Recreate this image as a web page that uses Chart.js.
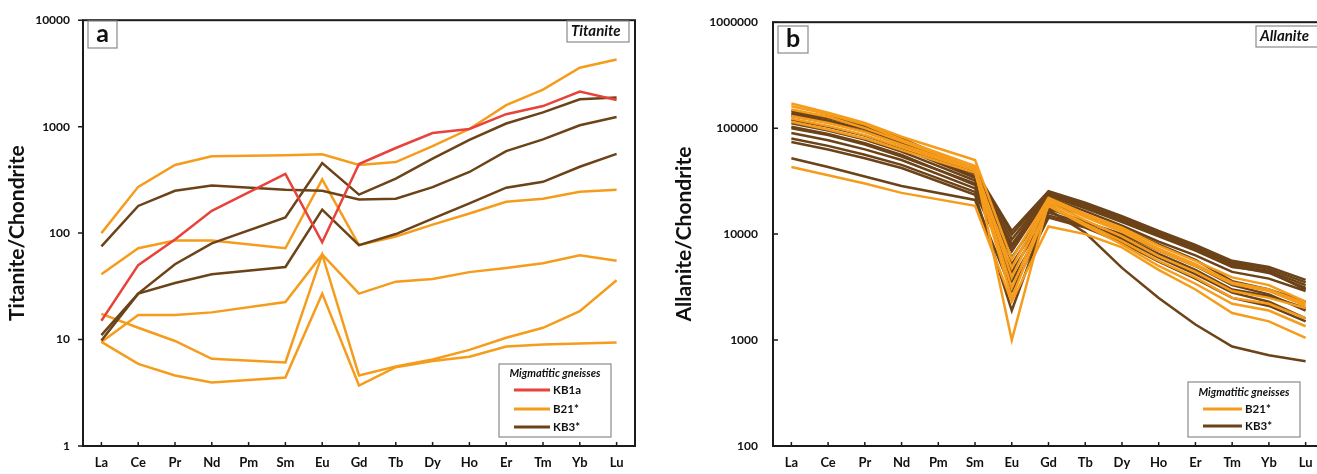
<!DOCTYPE html>
<html>
<head>
<meta charset="utf-8">
<script src="https://cdn.jsdelivr.net/npm/chart.js@4.4.0/dist/chart.umd.min.js"></script>
<style>
  html, body { margin: 0; padding: 0; background: #fff; overflow: hidden; width: 1317px; height: 474px; }
  #wrapA { position: absolute; left: 0; top: 0; }
  #wrapB { position: absolute; left: 660px; top: 0; }
</style>
</head>
<body>
<div id="wrapA"><canvas id="titanite" width="650" height="474"></canvas></div>
<div id="wrapB"><canvas id="allanite" width="664" height="474"></canvas></div>
<script>
  // REE order, Pm not analysed (null, line spans the gap)
  var elements = ["La", "Ce", "Pr", "Nd", "Pm", "Sm", "Eu", "Gd", "Tb", "Dy", "Ho", "Er", "Tm", "Yb", "Lu"];
  var titaniteTicks = [1, 10, 100, 1000, 10000];
  var allaniteTicks = [100, 1000, 10000, 100000, 1000000];

  // a - Titanite/Chondrite
  var titaniteKB1a = [
    [15, 50, 87, 162, null, 360, 82, 445, 630, 870, 950, 1310, 1560, 2140, 1780]
  ];
  var titaniteB21 = [
    [100, 272, 437, 528, null, 540, 550, 437, 465, 655, 950, 1590, 2230, 3580, 4270],
    [41, 72, 85, 85, null, 72, 320, 77, 93, 120, 153, 197, 210, 245, 255],
    [9.5, 17, 17, 18, null, 22.5, 63, 27, 35, 37, 43, 47, 52, 62, 55],
    [17.4, 12.9, 9.7, 6.6, null, 6.1, 63, 4.6, 5.6, 6.5, 8.0, 10.4, 12.9, 18.5, 36],
    [9.5, 5.9, 4.6, 3.95, null, 4.4, 27, 3.7, 5.5, 6.3, 6.9, 8.6, 9.0, 9.2, 9.4]
  ];
  var titaniteKB3 = [
    [75, 180, 250, 280, null, 255, 250, 207, 210, 270, 375, 590, 760, 1030, 1230],
    [9.8, 27, 51, 80, null, 140, 455, 230, 325, 500, 750, 1070, 1360, 1810, 1880],
    [11, 27, 34, 41, null, 48, 166, 77, 98, 137, 190, 267, 303, 420, 555]
  ];

  // b - Allanite/Chondrite
  var allaniteKB3 = [
    [146000, 128000, 108000, 80000, null, 40000, 10700, 25400, 19800, 14800, 10700, 7900, 5600, 4900, 3700],
    [140000, 124000, 104000, 77000, null, 39000, 9900, 25000, 19200, 14300, 10300, 7600, 5400, 4700, 3500],
    [135000, 118000, 98000, 73000, null, 37000, 8900, 24500, 18600, 13900, 10000, 7400, 5200, 4500, 3300],
    [130000, 113000, 93000, 70000, null, 35000, 8000, 24000, 18000, 13400, 9700, 7200, 5000, 4300, 3100],
    [120000, 103000, 85000, 65000, null, 34000, 3600, 15000, 12000, 9500, 6500, 4600, 3000, 2600, 2000],
    [111000, 95000, 78000, 60000, null, 32000, 6900, 23000, 17500, 13000, 9500, 7000, 4900, 4400, 3000],
    [103000, 88000, 72000, 56000, null, 29000, 6000, 19500, 15000, 11500, 8000, 5700, 3600, 3000, 2300],
    [100000, 86000, 70000, 54000, null, 30000, 7500, 22000, 16500, 12000, 8500, 6300, 4400, 3800, 2900],
    [90000, 77000, 63000, 50000, null, 27000, 5200, 17500, 13000, 10000, 7000, 5000, 3300, 2700, 1900],
    [80000, 68000, 56000, 45000, null, 25000, 4400, 16000, 12500, 9000, 6000, 4200, 2800, 2300, 1600],
    [74000, 63000, 52000, 42000, null, 23500, 1900, 17000, 10300, 4800, 2500, 1400, 870, 720, 630],
    [52000, 43000, 35000, 28500, null, 21000, 2900, 14300, 11500, 8300, 5500, 3800, 2500, 2100, 1500]
  ];
  var allaniteB21 = [
    [171000, 140000, 112000, 83000, null, 50000, 5800, 22000, 15500, 11500, 7800, 5600, 3900, 3300, 2300],
    [161000, 135000, 108000, 78000, null, 44000, 3900, 21000, 14500, 10500, 7000, 5000, 3400, 2900, 2100],
    [150000, 128000, 100000, 75000, null, 42000, 1000, 20000, 13500, 9500, 6200, 4400, 2900, 2500, 2000],
    [130000, 112000, 92000, 70000, null, 41000, 4800, 21500, 15000, 11000, 7300, 5200, 3500, 3000, 2200],
    [123000, 105000, 86000, 66000, null, 40000, 3100, 19000, 12500, 8600, 5600, 3900, 2500, 2200, 1600],
    [115000, 97000, 80000, 62000, null, 38000, 2500, 18500, 12000, 8000, 5000, 3400, 2200, 1900, 1350],
    [43000, 36000, 30000, 24500, null, 18500, 2300, 11800, 10000, 7500, 4600, 3000, 1800, 1500, 1050]
  ];

  var FONT = "Lato, 'Open Sans', sans-serif";
  var RED = "#e8433b";
  var ORANGE = "#f59c1c";
  var BROWN = "#6c4318";

  function lines(rows, color, width) {
    return rows.map(function(row) {
      return {
        data: row,
        borderColor: color,
        backgroundColor: color,
        borderWidth: width,
        pointRadius: 0,
        spanGaps: true,
        fill: false,
        tension: 0
      };
    });
  }

  var decorPlugin = {
    id: "decor",
    afterDraw: function(chart, args, o) {
      var ctx = chart.ctx;
      var a = chart.chartArea;
      var xs = chart.scales.x;
      var ys = chart.scales.y;
      ctx.save();

      // frame
      ctx.strokeStyle = "#1b1b1b";
      ctx.lineWidth = 2;
      ctx.strokeRect(a.left, a.top, a.right - a.left, a.bottom - a.top);

      // tick marks
      ctx.lineWidth = 1.5;
      ctx.beginPath();
      ys.ticks.forEach(function(t) {
        var y = ys.getPixelForValue(t.value);
        ctx.moveTo(a.left, y);
        ctx.lineTo(a.left + o.yTickDir * 5, y);
      });
      elements.forEach(function(e, i) {
        var x = xs.getPixelForValue(i);
        ctx.moveTo(x, a.bottom);
        ctx.lineTo(x, a.bottom - 4);
      });
      ctx.stroke();

      function box(r) {
        ctx.fillStyle = "#fff";
        ctx.fillRect(r[0], r[1], r[2], r[3]);
        ctx.strokeStyle = "#8a8a8a";
        ctx.lineWidth = 1.2;
        ctx.strokeRect(r[0], r[1], r[2], r[3]);
      }

      // panel letter
      box(o.letterBox);
      ctx.fillStyle = "#111";
      ctx.textAlign = "center";
      ctx.textBaseline = "middle";
      ctx.font = "bold 25px " + FONT;
      ctx.fillText(o.letter, o.letterBox[0] + o.letterBox[2] / 2, o.letterBox[1] + o.letterBox[3] / 2 - 1);

      // mineral name
      box(o.mineralBox);
      ctx.fillStyle = "#111";
      ctx.font = "italic bold 15px " + FONT;
      ctx.textAlign = "left";
      ctx.fillText(o.mineral, o.mineralBox[0] + 4, o.mineralBox[1] + o.mineralBox[3] / 2);

      // legend
      var L = o.legend;
      box(L.box);
      ctx.fillStyle = "#111";
      ctx.textAlign = "center";
      ctx.font = "italic bold 11px " + FONT;
      ctx.fillText("Migmatitic gneisses", L.box[0] + L.box[2] / 2, L.titleY);
      ctx.font = "bold 11.5px " + FONT;
      ctx.textAlign = "left";
      L.items.forEach(function(it, i) {
        var y = L.rowY[i];
        ctx.strokeStyle = it.color;
        ctx.lineWidth = 3;
        ctx.beginPath();
        ctx.moveTo(L.x0, y);
        ctx.lineTo(L.x1, y);
        ctx.stroke();
        ctx.fillStyle = "#111";
        ctx.fillText(it.label, L.x1 + 3, y + 0.5);
      });

      ctx.restore();
    }
  };

  function panelOptions(yTicks, yTitle, cfg) {
    return {
      responsive: false,
      animation: false,
      layout: { padding: cfg.padding },
      scales: {
        x: {
          type: "category",
          offset: true,
          grid: { display: false, drawTicks: false },
          border: { display: false },
          ticks: {
            color: "#111",
            font: { family: FONT, size: 13, weight: "bold" },
            padding: 9,
            autoSkip: false,
            maxRotation: 0
          },
          afterFit: function(s) { s.height = 28; }
        },
        y: {
          type: "logarithmic",
          min: yTicks[0],
          max: yTicks[yTicks.length - 1],
          grid: { display: false, drawTicks: false },
          border: { display: false },
          afterBuildTicks: function(s) {
            s.ticks = yTicks.map(function(v) { return { value: v }; });
          },
          ticks: {
            color: "#111",
            font: { family: FONT, size: 12, weight: "bold" },
            padding: cfg.yPad,
            callback: function(v) { return String(v); }
          },
          title: {
            display: true,
            text: yTitle,
            color: "#111",
            font: { family: FONT, size: 21, weight: "bold" },
            padding: { top: cfg.titlePad, bottom: 0 }
          },
          afterFit: function(s) { s.width = cfg.axisWidth; }
        }
      },
      plugins: {
        legend: { display: false },
        tooltip: { enabled: false },
        decor: cfg.decor
      }
    };
  }

  new Chart(document.getElementById("titanite").getContext("2d"), {
    type: "line",
    data: {
      labels: elements,
      datasets: lines(titaniteKB1a, RED, 2.5)
        .concat(lines(titaniteKB3, BROWN, 2.5))
        .concat(lines(titaniteB21, ORANGE, 2.5))
    },
    options: panelOptions(titaniteTicks, "Titanite/Chondrite", {
      padding: { left: 0, top: 17, right: 15, bottom: 0 },
      axisWidth: 83,
      yPad: 13,
      titlePad: 5,
      decor: {
        yTickDir: -1,
        letter: "a",
        letterBox: [88, 21, 29, 27],
        mineral: "Titanite",
        mineralBox: [567, 21, 62, 21],
        legend: {
          box: [499, 364, 112, 73],
          titleY: 373,
          rowY: [390, 409, 427],
          x0: 514,
          x1: 550,
          items: [
            { label: "KB1a", color: RED },
            { label: "B21*", color: ORANGE },
            { label: "KB3*", color: BROWN }
          ]
        }
      }
    }),
    plugins: [decorPlugin]
  });

  new Chart(document.getElementById("allanite").getContext("2d"), {
    type: "line",
    data: {
      labels: elements,
      datasets: lines(allaniteB21, ORANGE, 2.5).concat(lines(allaniteKB3, BROWN, 2.5))
    },
    options: panelOptions(allaniteTicks, "Allanite/Chondrite", {
      padding: { left: 0, top: 22, right: 0, bottom: 0 },
      axisWidth: 113,
      yPad: 15,
      titlePad: 12,
      decor: {
        yTickDir: 1,
        letter: "b",
        letterBox: [118, 26, 30, 27],
        mineral: "Allanite",
        mineralBox: [596, 26, 70, 21],
        legend: {
          box: [528, 382, 112, 55],
          titleY: 392,
          rowY: [409, 426],
          x0: 543,
          x1: 582,
          items: [
            { label: "B21*", color: ORANGE },
            { label: "KB3*", color: BROWN }
          ]
        }
      }
    }),
    plugins: [decorPlugin]
  });
</script>
</body>
</html>
